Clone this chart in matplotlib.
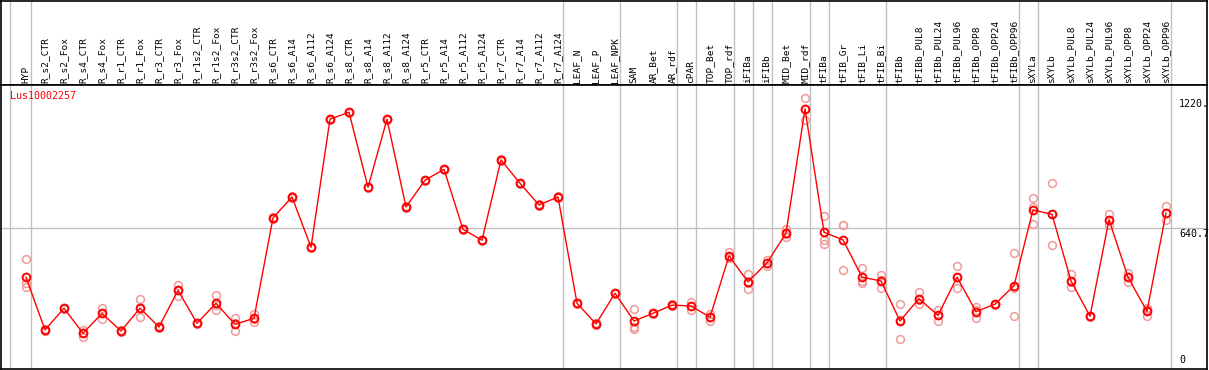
import matplotlib
matplotlib.use("Agg")
import matplotlib.pyplot as plt
import matplotlib.transforms as mtransforms

# sample names, in plot order
samples = [
    "HYP", "R_s2_CTR", "R_s2_Fox", "R_s4_CTR", "R_s4_Fox", "R_r1_CTR", "R_r1_Fox",
    "R_r3_CTR", "R_r3_Fox", "R_r1s2_CTR", "R_r1s2_Fox", "R_r3s2_CTR", "R_r3s2_Fox",
    "R_s6_CTR", "R_s6_A14", "R_s6_A112", "R_s6_A124", "R_s8_CTR", "R_s8_A14",
    "R_s8_A112", "R_s8_A124", "R_r5_CTR", "R_r5_A14", "R_r5_A112", "R_r5_A124",
    "R_r7_CTR", "R_r7_A14", "R_r7_A112", "R_r7_A124", "LEAF_N", "LEAF_P", "LEAF_NPK",
    "SAM", "AR_Bet", "AR_rdf", "cPAR", "TOP_Bet", "TOP_rdf", "iFIBa", "iFIBb",
    "MID_Bet", "MID_rdf", "tFIBa", "tFIB_Gr", "tFIB_Li", "tFIB_Bi", "tFIBb",
    "tFIBb_PUL8", "tFIBb_PUL24", "tFIBb_PUL96", "tFIBb_OPP8", "tFIBb_OPP24", "tFIBb_OPP96",
    "sXYLa", "sXYLb", "sXYLb_PUL8", "sXYLb_PUL24", "sXYLb_PUL96", "sXYLb_OPP8",
    "sXYLb_OPP24", "sXYLb_OPP96",
]

# mean expression per sample
means = [
    419, 183, 280, 168, 257, 178, 280, 196, 360, 213, 302, 208, 235,
    684, 778, 553, 1126, 1157, 821, 1126, 733, 853, 902, 633, 584,
    944, 839, 742, 778, 302, 210, 347,
    223, 257, 294, 290, 240, 514, 398, 483,
    616, 1172, 620, 586, 419, 402, 223,
    323, 248, 419, 265, 298, 381,
    720, 700, 402, 244, 676, 419, 266, 706,
]

# replicate values (three per sample)
reps = [
    [499, 394, 374], [180, 183, 186], [278, 280, 283], [183, 171, 150], [280, 233, 259],
    [175, 178, 181], [320, 240, 281], [193, 196, 199], [384, 336, 361], [210, 213, 215],
    [339, 271, 296], [235, 212, 177], [254, 218, 233],
    [681, 684, 687], [775, 778, 781], [550, 553, 556], [1123, 1126, 1129], [1154, 1157, 1160],
    [818, 821, 824], [1123, 1126, 1129], [730, 733, 736], [850, 853, 856], [899, 902, 905],
    [630, 633, 636], [581, 584, 587], [941, 944, 947], [836, 839, 842], [739, 742, 745],
    [775, 778, 781], [299, 302, 305], [207, 210, 213], [344, 347, 350],
    [277, 197, 186], [255, 257, 260], [292, 294, 297], [307, 272, 291], [224, 240, 255],
    [530, 504, 508], [433, 365, 394], [471, 483, 494],
    [635, 599, 613], [1220, 1123, 1173], [694, 586, 568], [654, 654, 450], [459, 394, 402],
    [429, 369, 408], [298, 142, 229],
    [353, 298, 318], [272, 224, 249], [467, 369, 419], [287, 236, 270], [295, 298, 301],
    [527, 244, 371],
    [772, 656, 731], [839, 562, 700], [435, 374, 398], [241, 244, 247], [702, 653, 675],
    [438, 396, 421], [280, 247, 273], [738, 674, 708],
]

# index of the sample after which a group separator is drawn
separators_after = [-1.09, 0, 28, 31, 34, 35, 37, 38, 39, 41, 42, 45, 52, 53, 60]

gene = "Lus10002257"
ref_value = 640.7
max_value = 1220

W, H = 1209, 370
fig = plt.figure(figsize=(W / 100, H / 100), dpi=100)
fig.patch.set_facecolor("white")

x_lo, x_hi = (1 - 26) / 19, (1207 - 26) / 19
left, width = 1 / W, 1206 / W
head_bottom = (H - 85) / H

ax_head = fig.add_axes([left, head_bottom, width, 1 - head_bottom - 0.5 / H])
ax = fig.add_axes([left, 1 / H, width, head_bottom - 1 / H])

xs = list(range(len(samples)))
mono = "DejaVu Sans Mono"

for a in (ax_head, ax):
    a.set_xlim(x_lo, x_hi)
    a.set_xticks([])
    a.set_yticks([])
    for s in a.spines.values():
        s.set_color("black")
        s.set_linewidth(1.2)
    for p in separators_after:
        a.axvline(p + 0.25, color="#c0c0c0", lw=1.0, zorder=0)

ax_head.set_ylim(0, 1)
for x, name in zip(xs, samples):
    ax_head.text(x, 2 / 85, name, rotation=90, ha="center", va="bottom",
                 fontsize=6.8, family=mono, color="black")

ax.set_ylim(8, 1279)
ax.axhline(ref_value, color="#c0c0c0", lw=1.0, zorder=0)

for x, r in zip(xs, reps):
    ax.plot([x] * len(r), r, linestyle="none", marker="o", ms=5.6, mfc="none",
            mec="#f09a9a", mew=1.1, zorder=2)
ax.plot(xs, means, color="red", lw=1.0, zorder=3)
ax.plot(xs, means, linestyle="none", marker="o", ms=5.6, mfc="none", mec="red",
        mew=1.4, zorder=4)

ax.text(9 / 1206, 1 - 6 / 284, gene, transform=ax.transAxes, ha="left", va="top",
        fontsize=7.2, family=mono, color="red")

lab_x = (1179 - 26) / 19
off = mtransforms.offset_copy(ax.transData, fig=fig, x=0, y=-1, units="dots")
ax.text(lab_x, max_value, "1220.", transform=off, ha="left", va="top",
        fontsize=7.2, family=mono, color="black")
ax.text(lab_x, ref_value, "640.7", transform=off, ha="left", va="top",
        fontsize=7.2, family=mono, color="black")
ax.text((1179 - 1) / 1206, 4 / 284, "0", transform=ax.transAxes, ha="left", va="bottom",
        fontsize=7.2, family=mono, color="black")

fig.savefig("out.png", dpi=100)
